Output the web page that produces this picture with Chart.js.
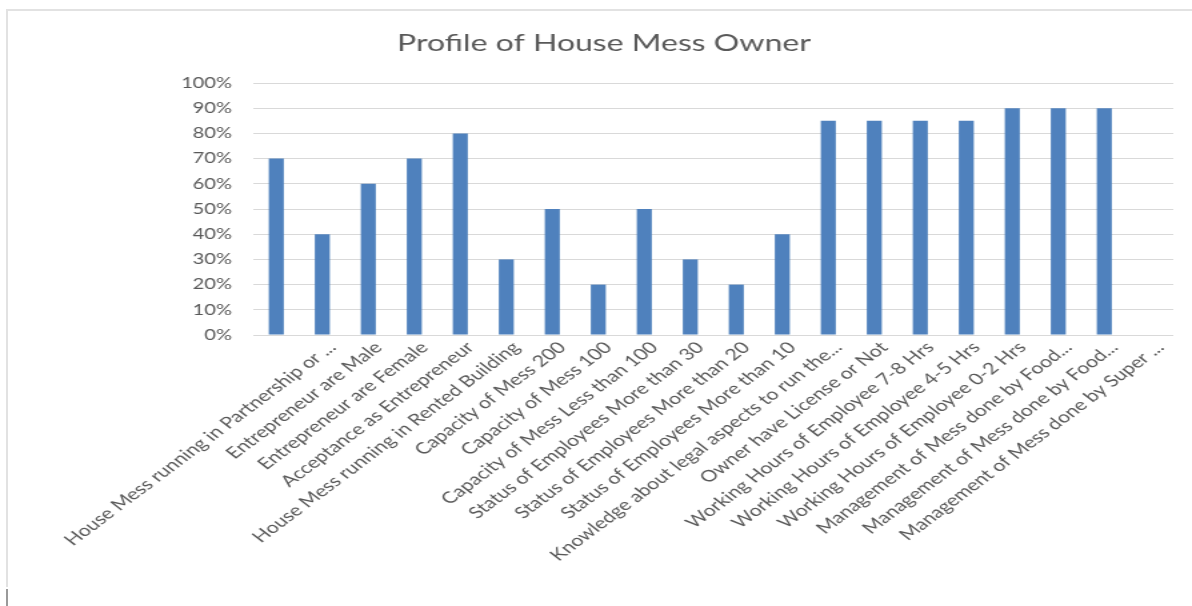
<!DOCTYPE html>
<html>
<head>
<meta charset="utf-8">
<script src="https://cdn.jsdelivr.net/npm/chart.js@4/dist/chart.umd.min.js"></script>
<style>
  html, body { margin: 0; padding: 0; background: #ffffff; overflow: hidden; }
  body { width: 1192px; height: 606px; position: relative; }
  #frame { position: absolute; left: 6px; top: 9px; width: 1200px; height: 576px;
           border-top: 2px solid #e2e2e2; border-left: 2px solid #e2e2e2; }
  #tick { position: absolute; left: 6px; top: 589px; width: 2px; height: 17px; background: #9a9a9a; }
  #wrap { position: absolute; left: 0; top: 0; width: 894px; height: 606px;
          transform: scaleX(1.33333); transform-origin: 0 0; }
</style>
</head>
<body>
<div id="frame"></div>
<div id="tick"></div>
<div id="wrap"><canvas id="c"></canvas></div>
<script>
const categories = [
  "House Mess running in Partnership or ...",
  "Entrepreneur are Male",
  "Entrepreneur are Female",
  "Acceptance as Entrepreneur",
  "House Mess running in Rented Building",
  "Capacity of Mess 200",
  "Capacity of Mess 100",
  "Capacity of Mess Less than 100",
  "Status of Employees More than 30",
  "Status of Employees More than 20",
  "Status of Employees More than 10",
  "Knowledge about legal aspects to run the...",
  "Owner have License or Not",
  "Working Hours of Employee 7-8 Hrs",
  "Working Hours of Employee 4-5 Hrs",
  "Working Hours of Employee 0-2 Hrs",
  "Management of Mess done by Food...",
  "Management of Mess done by Food...",
  "Management of Mess done by Super ...",
  ""
];
const values = [70, 40, 60, 70, 80, 30, 50, 20, 50, 30, 20, 40, 85, 85, 85, 85, 90, 90, 90, null];
const yTicks = [0, 10, 20, 30, 40, 50, 60, 70, 80, 90, 100];
const titleText = "Profile of House Mess Owner";

const textColor = '#595959';
const fontFamily = 'Lato, "Open Sans", sans-serif';

new Chart(document.getElementById('c'), {
  type: 'bar',
  data: {
    labels: categories,
    datasets: [{
      data: values,
      backgroundColor: '#4f81bd',
      borderWidth: 0,
      categoryPercentage: 1,
      barPercentage: 0.326
    }]
  },
  options: {
    responsive: true,
    maintainAspectRatio: false,
    animation: false,
    layout: { padding: { top: 10, right: 14, bottom: 0, left: 26 } },
    plugins: {
      legend: { display: false },
      tooltip: { enabled: false },
      title: {
        display: true,
        text: titleText,
        color: textColor,
        font: { family: fontFamily, size: 24, weight: 'normal' },
        padding: { top: 18.6, bottom: 25.6 }
      }
    },
    scales: {
      x: {
        grid: { display: false, drawTicks: false },
        border: { display: false },
        ticks: {
          autoSkip: false,
          maxRotation: 45,
          minRotation: 45,
          labelOffset: 42,
          padding: 3,
          color: textColor,
          font: { family: fontFamily, size: 16 }
        },
        afterFit: (s) => { s.height = 271; s.paddingLeft = 0; s.paddingRight = 0; }
      },
      y: {
        min: 0,
        max: 100,
        afterBuildTicks: (s) => { s.ticks = yTicks.map(v => ({ value: v })); },
        grid: { color: '#d9d9d9', lineWidth: 1, drawTicks: false },
        border: { display: false },
        ticks: {
          padding: 16,
          color: textColor,
          font: { family: fontFamily, size: 15 },
          callback: (v) => v + '%'
        },
        afterFit: (s) => { s.width = 164; }
      }
    }
  }
});
</script>
</body>
</html>
